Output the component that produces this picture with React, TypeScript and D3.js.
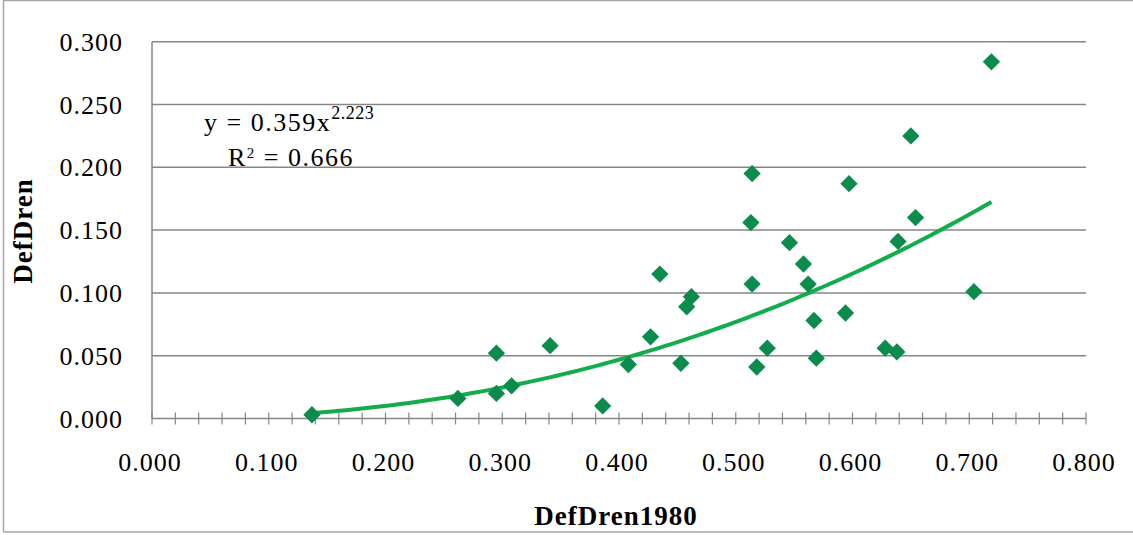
import React from "react";
import * as d3 from 'd3';

// DefDren1980 (x) vs DefDren (y)
const defDren1980: number[] = [
    0.137, 0.262, 0.295, 0.295, 0.308, 0.341, 0.386, 0.408, 0.427, 0.435, 0.453,
    0.458, 0.462, 0.514, 0.513, 0.514, 0.518, 0.527, 0.546, 0.558, 0.562, 0.567,
    0.569, 0.594, 0.597, 0.628, 0.638, 0.639, 0.654, 0.650, 0.704, 0.719
];
const defDren: number[] = [
    0.003, 0.016, 0.052, 0.020, 0.026, 0.058, 0.010, 0.043, 0.065, 0.115, 0.044,
    0.089, 0.097, 0.195, 0.156, 0.107, 0.041, 0.056, 0.140, 0.123, 0.107, 0.078,
    0.048, 0.084, 0.187, 0.056, 0.053, 0.141, 0.160, 0.225, 0.101, 0.284
];

const xTickLabels: string[] = ['0.000', '0.100', '0.200', '0.300', '0.400', '0.500', '0.600', '0.700', '0.800'];
const yTickLabels: string[] = ['0.000', '0.050', '0.100', '0.150', '0.200', '0.250', '0.300'];

// power trendline y = a * x^b
const trendA = 0.359;
const trendB = 2.223;
const rSquared = '0.666';

class App extends React.Component<{}, {}> {
    myRef: React.RefObject<SVGSVGElement | null>;

    constructor(props: {}) {
        super(props);
        this.myRef = React.createRef();
    }

    componentDidMount() {
        const width = 1133;
        const height = 535;
        const svg = d3.select(this.myRef.current);
        svg.selectAll('*').remove();

        const colors = ['#868686', '#0c8c4c', '#12ac4a', '#000000', '#a6a6a6'];
        const font = '"Liberation Serif", "Times New Roman", serif';

        svg.append('rect').attr('width', width).attr('height', height).attr('fill', '#fff');

        // outer frame
        svg.append('path')
            .attr('d', `M3.5,532 L3.5,0.5 L1133,0.5 M3.5,532 L1133,532`)
            .attr('fill', 'none')
            .attr('stroke', colors[4])
            .attr('stroke-width', 1.5);

        const x = d3.scaleLinear().domain([0, 0.8]).range([152, 1086]);
        const y = d3.scaleLinear().domain([0, 0.3]).range([418.5, 41.7]);

        const yVals = yTickLabels.map(Number);
        const xVals = xTickLabels.map(Number);

        // horizontal gridlines
        svg.append('g')
            .selectAll('line')
            .data(yVals.filter(v => v > 0))
            .enter()
            .append('line')
            .attr('x1', x(0))
            .attr('x2', x(0.8))
            .attr('y1', d => y(d))
            .attr('y2', d => y(d))
            .attr('stroke', colors[0])
            .attr('stroke-width', 1.5);

        // y axis line
        svg.append('line')
            .attr('x1', x(0)).attr('x2', x(0))
            .attr('y1', y(0)).attr('y2', y(0.3))
            .attr('stroke', colors[0]).attr('stroke-width', 1.5);

        // x axis line + cross ticks every 0.02
        svg.append('line')
            .attr('x1', x(0)).attr('x2', x(0.8))
            .attr('y1', y(0)).attr('y2', y(0))
            .attr('stroke', colors[0]).attr('stroke-width', 1.5);

        svg.append('g')
            .selectAll('line')
            .data(d3.range(0, 41).map(i => i * 0.02))
            .enter()
            .append('line')
            .attr('x1', d => x(d)).attr('x2', d => x(d))
            .attr('y1', y(0) - 6).attr('y2', y(0) + 6)
            .attr('stroke', colors[0]).attr('stroke-width', 1.2);

        // tick labels
        svg.append('g')
            .selectAll('text')
            .data(yTickLabels)
            .enter()
            .append('text')
            .attr('x', 123)
            .attr('y', d => y(Number(d)) + 9)
            .attr('text-anchor', 'end')
            .attr('font-family', font)
            .attr('font-size', 26)
            .attr('letter-spacing', 1)
            .attr('fill', colors[3])
            .text(d => d);

        svg.append('g')
            .selectAll('text')
            .data(xTickLabels)
            .enter()
            .append('text')
            .attr('x', (d, i) => x(xVals[i]) - 2)
            .attr('y', 471)
            .attr('text-anchor', 'middle')
            .attr('font-family', font)
            .attr('font-size', 26)
            .attr('letter-spacing', 1)
            .attr('fill', colors[3])
            .text(d => d);

        // axis titles
        svg.append('text')
            .attr('x', 616)
            .attr('y', 525)
            .attr('text-anchor', 'middle')
            .attr('font-family', font)
            .attr('font-size', 27)
            .attr('font-weight', 'bold')
            .attr('letter-spacing', 1)
            .text('DefDren1980');

        svg.append('text')
            .attr('transform', `translate(32, 231) rotate(-90)`)
            .attr('text-anchor', 'middle')
            .attr('font-family', font)
            .attr('font-size', 27)
            .attr('font-weight', 'bold')
            .attr('letter-spacing', 1)
            .text('DefDren');

        // trendline
        const minX = d3.min(defDren1980) as number;
        const maxX = d3.max(defDren1980) as number;
        const trendXs = d3.range(0, 101).map(i => minX + (maxX - minX) * i / 100);
        const trendLine = d3.line<number>()
            .x(d => x(d))
            .y(d => y(trendA * Math.pow(d, trendB)));

        svg.append('path')
            .datum(trendXs)
            .attr('d', trendLine)
            .attr('fill', 'none')
            .attr('stroke', colors[2])
            .attr('stroke-width', 4);

        // markers
        const diamond = d3.symbol().type(d3.symbolSquare).size(150);
        svg.append('g')
            .selectAll('path')
            .data(defDren1980.map((v, i) => [v, defDren[i]]))
            .enter()
            .append('path')
            .attr('d', diamond as any)
            .attr('transform', d => `translate(${x(d[0])}, ${y(d[1])}) rotate(45)`)
            .attr('fill', colors[1]);

        // equation
        const eq = svg.append('text')
            .attr('x', 204)
            .attr('y', 131)
            .attr('font-family', font)
            .attr('font-size', 26)
            .attr('letter-spacing', 1.5)
            .attr('fill', colors[3]);
        eq.append('tspan').text(`y = ${trendA}x`);
        eq.append('tspan').attr('dy', -12).attr('font-size', 18).attr('letter-spacing', 0.5).text(`${trendB}`);

        const r2 = svg.append('text')
            .attr('x', 228)
            .attr('y', 166)
            .attr('font-family', font)
            .attr('font-size', 26)
            .attr('letter-spacing', 1.5)
            .attr('fill', colors[3]);
        r2.append('tspan').text('R');
        r2.append('tspan').attr('dy', -8).attr('font-size', 15).text('2');
        r2.append('tspan').attr('dy', 8).text(` = ${rSquared}`);
    }

    render() {
        return (
            <svg
                ref={this.myRef}
                width={1133}
                height={535}
                style={{ position: 'absolute', left: 0, top: 0, display: 'block' }}
            />
        );
    }
}

export default App;
